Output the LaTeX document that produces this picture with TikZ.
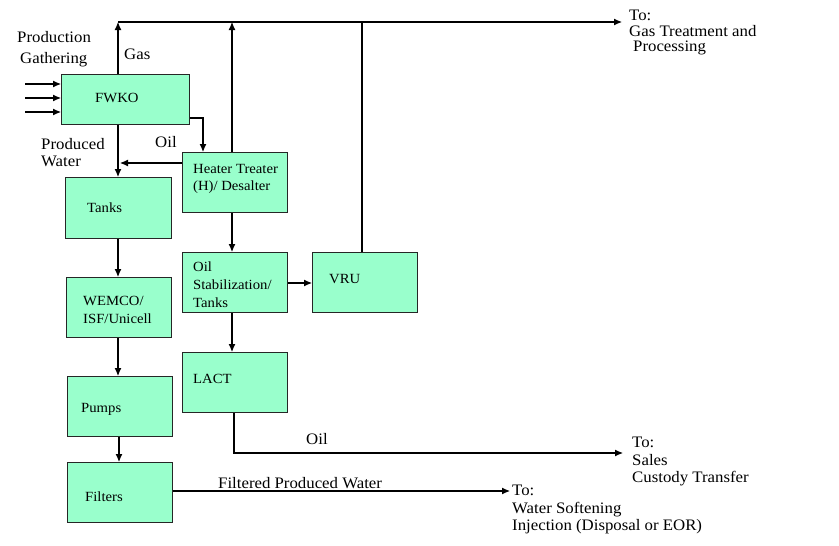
\documentclass[tikz,border=0pt]{standalone}
\usepackage{fontspec}
\setmainfont{Liberation Serif}[FakeStretch=1.05]
\usetikzlibrary{arrows.meta}
\definecolor{boxfill}{HTML}{99FFCC}
\begin{document}
\begin{tikzpicture}[x=1pt,y=-1pt,
  box/.style={draw=black!85,line width=1.2pt,fill=boxfill,anchor=north west,inner sep=0pt},
  conn/.style={line width=1.05pt,black},
  arr/.style={conn,-{Latex[length=8pt,width=7pt]}},
  lbl/.style={anchor=base west,inner sep=0pt,font=\fontsize{16}{18}\selectfont},
  btxt/.style={anchor=base west,inner sep=0pt,font=\fontsize{14}{18}\selectfont}]
\useasboundingbox (0,0) rectangle (839,546);
% boxes
\node[box,minimum width=128,minimum height=50] (fwko) at (61,74) {};
\node[box,minimum width=106,minimum height=61] (tanks) at (65,177) {};
\node[box,minimum width=105,minimum height=60] (heater) at (182,152) {};
\node[box,minimum width=105,minimum height=60] (stab) at (182,252) {};
\node[box,minimum width=105,minimum height=60] (vru) at (312,252) {};
\node[box,minimum width=105,minimum height=60] (lact) at (182,352) {};
\node[box,minimum width=105,minimum height=60] (wemco) at (66,277) {};
\node[box,minimum width=105,minimum height=60] (pumps) at (67,376) {};
\node[box,minimum width=105,minimum height=60] (filters) at (67,462) {};
% box texts
\node[btxt] (tfwko) at (95,102) {FWKO};
\node[btxt] (ttanks) at (87,212) {Tanks};
\node[btxt] (theater1) at (193,173) {Heater Treater};
\node[btxt] (theater2) at (193,190) {(H)/ Desalter};
\node[btxt] (tstab1) at (193,271) {Oil};
\node[btxt] (tstab2) at (193,289) {Stabilization/};
\node[btxt] (tstab3) at (193,307) {Tanks};
\node[btxt] (tvru) at (329,283) {VRU};
\node[btxt] (tlact) at (193,383) {LACT};
\node[btxt] (twemco1) at (83,305) {WEMCO/};
\node[btxt] (twemco2) at (83,323) {ISF/Unicell};
\node[btxt] (tpumps) at (81,412) {Pumps};
\node[btxt] (tfilters) at (85,501) {Filters};
% coordinates
\coordinate (gt) at (118,22);
\coordinate (gend) at (622,22);
\coordinate (hx) at (232,22);
\coordinate (vx) at (362,22);
\coordinate (in1) at (25,84);
\coordinate (in2) at (25,98);
\coordinate (in3) at (25,112);
\coordinate (oilc) at (203,118);
\coordinate (wj) at (120,163);
\coordinate (sy) at (0,283);
\coordinate (lc) at (234,453);
\coordinate (salesend) at (623,453);
\coordinate (fy) at (0,491);
\coordinate (waterend) at (510,491);
% connectors
\draw[arr] (gt) -- (gend);
\draw[arr] (gt |- fwko.north) -- (gt);
\draw[arr] (hx |- heater.north) -- (hx);
\draw[conn] (vx |- vru.north) -- (vx);
\draw[arr] (in1) -- (fwko.west |- in1);
\draw[arr] (in2) -- (fwko.west |- in2);
\draw[arr] (in3) -- (fwko.west |- in3);
\draw[arr] (gt |- fwko.south) -- (gt |- tanks.north);
\draw[arr] (fwko.east |- oilc) -- (oilc) -- (oilc |- heater.north);
\draw[arr] (heater.west |- wj) -- (wj);
\draw[arr] (hx |- heater.south) -- (hx |- stab.north);
\draw[arr] (stab.east |- sy) -- (vru.west |- sy);
\draw[arr] (hx |- stab.south) -- (hx |- lact.north);
\draw[arr] (lc |- lact.south) -- (lc) -- (salesend);
\draw[arr] (gt |- tanks.south) -- (gt |- wemco.north);
\draw[arr] (gt |- wemco.south) -- (gt |- pumps.north);
\draw[arr] ([xshift=1pt]gt |- pumps.south) -- ([xshift=1pt]gt |- filters.north);
\draw[arr] (filters.east |- fy) -- (waterend);
% labels
\node[lbl] (lprod1) at (17,42) {Production};
\node[lbl] (lprod2) at (20,63) {Gathering};
\node[lbl] (lgas) at (124,59) {Gas};
\node[lbl] (lpw1) at (41,149) {Produced};
\node[lbl] (lpw2) at (41,166) {Water};
\node[lbl] (loil1) at (155,147) {Oil};
\node[lbl] (lgt1) at (629,20) {To:};
\node[lbl] (lgt2) at (629,36) {Gas Treatment and};
\node[lbl] (lgt3) at (633,52) {Processing};
\node[lbl] (loil2) at (306,444) {Oil};
\node[lbl] (ls1) at (632,447) {To:};
\node[lbl] (ls2) at (632,465) {Sales};
\node[lbl] (ls3) at (632,482) {Custody Transfer};
\node[lbl] (lfpw) at (218,488) {Filtered Produced Water};
\node[lbl] (lw1) at (512,495) {To:};
\node[lbl] (lw2) at (512,513) {Water Softening};
\node[lbl] (lw3) at (512,530) {Injection (Disposal or EOR)};
\end{tikzpicture}
\end{document}
